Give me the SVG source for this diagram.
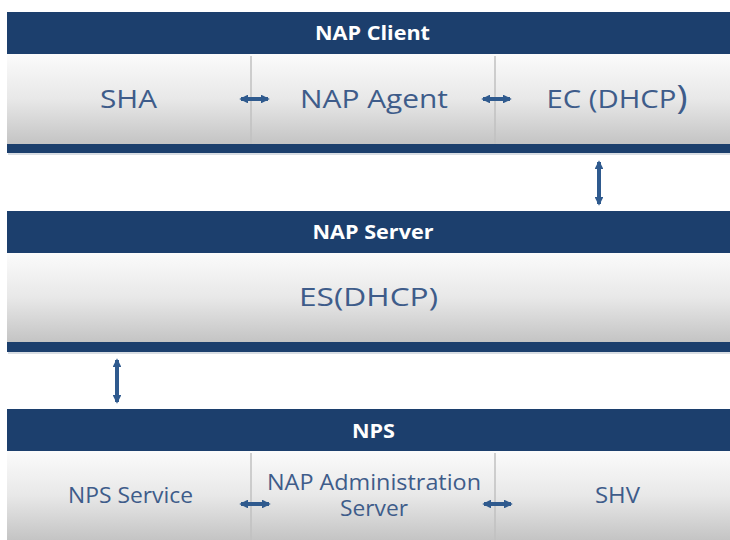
<svg xmlns="http://www.w3.org/2000/svg" width="730" height="540" viewBox="0 0 730 540">
<defs>
<linearGradient id="body" x1="0" y1="0" x2="0" y2="1">
<stop offset="0" stop-color="#fbfbfb"/>
<stop offset="0.5" stop-color="#e8e8e8"/>
<stop offset="1" stop-color="#c4c4c4"/>
</linearGradient>
<marker id="ah" viewBox="0 0 10 10" refX="8" refY="5" markerWidth="2.2" markerHeight="2.2" orient="auto-start-reverse">
<path d="M0,0 L10,5 L0,10 z" fill="#2f5a8e"/>
</marker>
<style>
.hdr{fill:#1c3f6d}
.body{fill:url(#body)}
.div{stroke:#c0c0c0;stroke-width:1.5}
.htxt{font-family:"Open Sans","Liberation Sans",sans-serif;font-weight:bold;font-size:19px;fill:#ffffff;text-anchor:middle}
.t{font-family:"Open Sans","Liberation Sans",sans-serif;fill:#3e5c8a;text-anchor:middle}
.con{stroke:#2f5a8e;stroke-width:4;fill:none;marker-start:url(#ah);marker-end:url(#ah)}
.shadow{fill:#d8dde3}
</style>
</defs>
<rect width="730" height="540" fill="#ffffff"/>
<g id="nap-client">
<rect class="shadow" x="8" y="13" width="722" height="142"/>
<rect class="hdr" x="7" y="12" width="723" height="42"/>
<rect class="body" x="7" y="54" width="723" height="90"/>
<rect class="hdr" x="7" y="144" width="723" height="9"/>
<line class="div" x1="251" y1="56" x2="251" y2="144"/>
<line class="div" x1="495" y1="56" x2="495" y2="144"/>
<text class="htxt" x="372.5" y="40" textLength="115" lengthAdjust="spacingAndGlyphs">NAP Client</text>
<g id="sha"><text class="t" x="128.5" y="108" font-size="25" textLength="57" lengthAdjust="spacingAndGlyphs">SHA</text></g>
<g id="nap-agent"><text class="t" x="374" y="108" font-size="25" textLength="148" lengthAdjust="spacingAndGlyphs">NAP Agent</text></g>
<g id="ec-dhcp"><text class="t" x="617" y="108" font-size="25" textLength="141" lengthAdjust="spacingAndGlyphs">EC (DHCP<tspan font-size="32" dy="1">)</tspan></text></g>
</g>
<g id="nap-server">
<rect class="shadow" x="8" y="212" width="722" height="142"/>
<rect class="hdr" x="7" y="211" width="723" height="42"/>
<rect class="body" x="7" y="253" width="723" height="89"/>
<rect class="hdr" x="7" y="342" width="723" height="10"/>
<text class="htxt" x="373" y="239" textLength="121" lengthAdjust="spacingAndGlyphs">NAP Server</text>
<g id="es-dhcp"><text class="t" x="368.5" y="306" font-size="25" textLength="139" lengthAdjust="spacingAndGlyphs">ES(DHCP)</text></g>
</g>
<g id="nps">
<rect class="shadow" x="8" y="410" width="722" height="130"/>
<rect class="hdr" x="7" y="409" width="723" height="42"/>
<rect class="body" x="7" y="451" width="723" height="89"/>
<line class="div" x1="251" y1="453" x2="251" y2="540"/>
<line class="div" x1="495" y1="453" x2="495" y2="540"/>
<text class="htxt" x="373.5" y="438" textLength="43" lengthAdjust="spacingAndGlyphs">NPS</text>
<g id="nps-service"><text class="t" x="130.5" y="503" font-size="21" textLength="125" lengthAdjust="spacingAndGlyphs">NPS Service</text></g>
<g id="nap-admin"><text class="t" x="374" y="490" font-size="21" textLength="214" lengthAdjust="spacingAndGlyphs">NAP Administration</text><text class="t" x="374" y="516" font-size="21" textLength="68" lengthAdjust="spacingAndGlyphs">Server</text></g>
<g id="shv"><text class="t" x="617.5" y="503" font-size="21" textLength="45" lengthAdjust="spacingAndGlyphs">SHV</text></g>
</g>
<g id="connectors">
<line class="con" x1="241" y1="99" x2="268" y2="99"/>
<line class="con" x1="483" y1="99" x2="510" y2="99"/>
<line class="con" x1="241" y1="504" x2="269" y2="504"/>
<line class="con" x1="484" y1="504" x2="511" y2="504"/>
<line class="con" x1="599" y1="162" x2="599" y2="204"/>
<line class="con" x1="117" y1="360" x2="117" y2="402"/>
</g>
</svg>
